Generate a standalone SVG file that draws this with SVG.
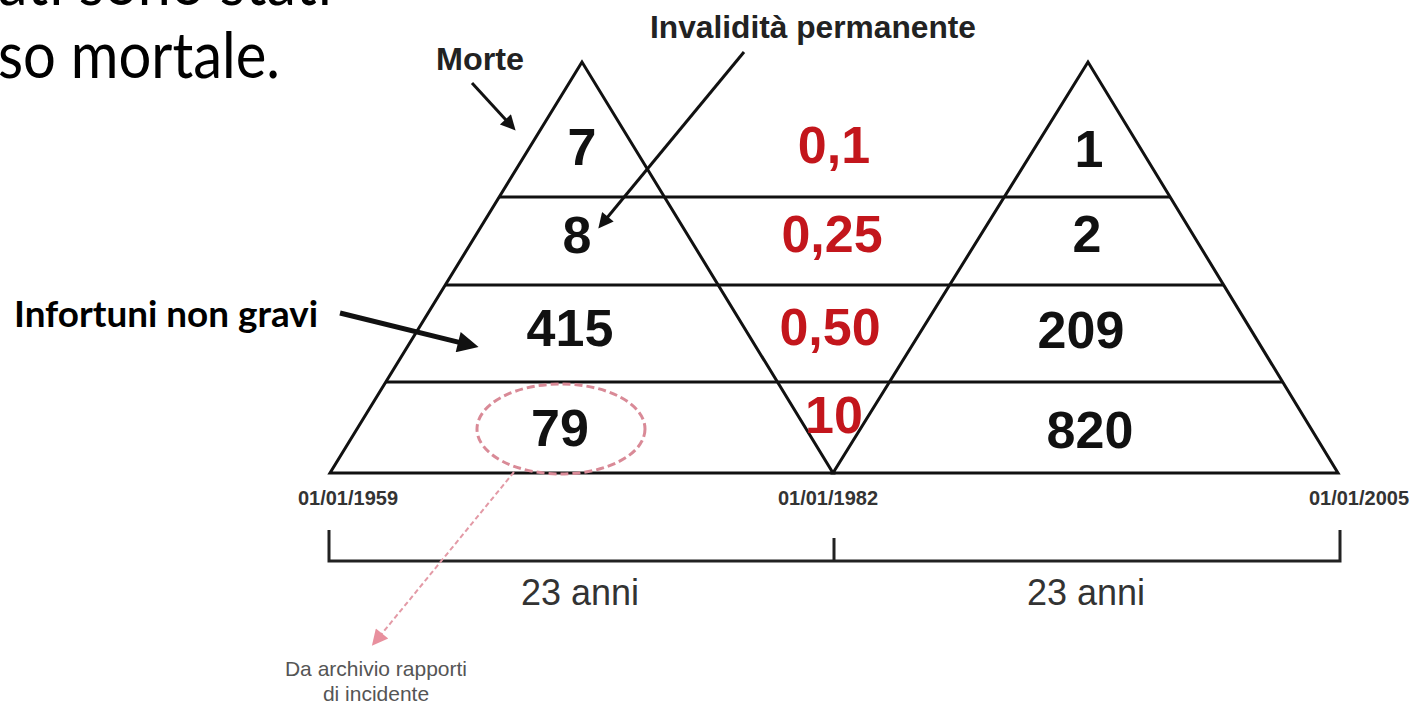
<svg xmlns="http://www.w3.org/2000/svg" width="1414" height="707" viewBox="0 0 1414 707">
  <style>
    .slide { font-family: Lato, "Liberation Sans", sans-serif; fill: #000; }
    .tri { fill: none; stroke: #111; stroke-width: 3; stroke-linejoin: miter; }
    .hl { stroke: #111; stroke-width: 3; }
    .num { font-family: "Liberation Sans", Arial, sans-serif; font-weight: bold; font-size: 52px; fill: #111; text-anchor: middle; }
    .red { fill: #c3161c; }
    .lbl { font-family: "Liberation Sans", Arial, sans-serif; font-weight: bold; font-size: 31px; fill: #222; }
    .date { font-family: "Liberation Sans", Arial, sans-serif; font-weight: bold; font-size: 20px; fill: #333; text-anchor: middle; }
    .span { font-family: "Liberation Sans", Arial, sans-serif; font-size: 36px; fill: #333; text-anchor: middle; }
    .note { font-family: "Liberation Sans", Arial, sans-serif; font-size: 21px; fill: #555; text-anchor: middle; }
    .arr { stroke: #111; fill: none; }
    .pink { stroke: #e39aa6; fill: none; }
  </style>
  <defs>
    <marker id="ah" viewBox="0 0 10 10" refX="3" refY="5" markerUnits="userSpaceOnUse" markerWidth="18" markerHeight="15" orient="auto">
      <path d="M0,0 L10,5 L0,10 z" fill="#111"/>
    </marker>
    <marker id="ahBig" viewBox="0 0 10 10" refX="3" refY="5" markerUnits="userSpaceOnUse" markerWidth="26" markerHeight="21" orient="auto">
      <path d="M0,0 L10,5 L0,10 z" fill="#111"/>
    </marker>
    <marker id="ahPink" viewBox="0 0 10 10" refX="3" refY="5" markerUnits="userSpaceOnUse" markerWidth="20" markerHeight="16" orient="auto">
      <path d="M0,0 L10,5 L0,10 z" fill="#e8909e"/>
    </marker>
  </defs>

  <!-- slide text (cut off) -->
  <g id="slide-text">
    <text class="slide" x="-2" y="5" font-size="63" textLength="334" lengthAdjust="spacingAndGlyphs">ati sono stati</text>
    <text class="slide" x="-2" y="78" font-size="63" textLength="282" lengthAdjust="spacingAndGlyphs">so mortale.</text>
  </g>

  <!-- pyramids -->
  <g id="pyramid-1959">
    <polygon class="tri" points="582,62 330,473 833,473"/>
  </g>
  <g id="pyramid-1982">
    <polygon class="tri" points="1088,62 833,473 1338,473"/>
  </g>
  <g id="levels">
    <line class="hl" x1="499" y1="197" x2="1170" y2="197"/>
    <line class="hl" x1="445" y1="285" x2="1224" y2="285"/>
    <line class="hl" x1="386" y1="382" x2="1283" y2="382"/>
  </g>

  <!-- values -->
  <g id="values-left">
    <text class="num" x="582" y="165">7</text>
    <text class="num" x="577" y="253">8</text>
    <text class="num" x="570" y="346">415</text>
    <text class="num" x="560" y="446">79</text>
  </g>
  <g id="values-ratio">
    <text class="num red" x="834" y="163">0,1</text>
    <text class="num red" x="832" y="252">0,25</text>
    <text class="num red" x="830" y="345">0,50</text>
    <text class="num red" x="834" y="433">10</text>
  </g>
  <g id="values-right">
    <text class="num" x="1089" y="167">1</text>
    <text class="num" x="1087" y="252">2</text>
    <text class="num" x="1081" y="348">209</text>
    <text class="num" x="1090" y="448">820</text>
  </g>

  <!-- labels -->
  <g id="label-morte">
    <text class="lbl" x="436" y="70" textLength="88" lengthAdjust="spacingAndGlyphs">Morte</text>
  </g>
  <g id="label-invalidita">
    <text class="lbl" x="650" y="38" textLength="326" lengthAdjust="spacingAndGlyphs">Invalidità permanente</text>
  </g>
  <g id="label-infortuni">
    <text class="slide" x="14" y="327" font-size="36" font-weight="bold" textLength="304" lengthAdjust="spacingAndGlyphs">Infortuni non gravi</text>
  </g>
  <g id="label-archivio">
    <text class="note" x="376" y="676">Da archivio rapporti</text>
    <text class="note" x="376" y="701">di incidente</text>
  </g>
  <g id="highlight-79">
    <ellipse cx="561" cy="429" rx="84" ry="45" fill="none" stroke="#d98a97" stroke-width="3" stroke-dasharray="8 4"/>
  </g>

  <!-- timeline -->
  <g id="timeline">
    <text class="date" x="348" y="505">01/01/1959</text>
    <text class="date" x="828" y="505">01/01/1982</text>
    <text class="date" x="1359" y="505">01/01/2005</text>
    <path d="M329,530 V561 H1340 V530 M834,538 V561" fill="none" stroke="#222" stroke-width="3"/>
    <text class="span" x="580" y="605">23 anni</text>
    <text class="span" x="1086" y="605">23 anni</text>
  </g>

  <!-- connectors -->
  <g id="connectors">
    <line class="arr" x1="472" y1="83" x2="508.5" y2="122.7" stroke-width="3" marker-end="url(#ah)"/>
    <line class="arr" x1="744" y1="52" x2="605" y2="220.3" stroke-width="3" marker-end="url(#ah)"/>
    <line class="arr" x1="340" y1="313" x2="464.3" y2="343.6" stroke-width="5" marker-end="url(#ahBig)"/>
    <line class="pink" x1="514" y1="472" x2="379" y2="637.2" stroke-width="2" stroke-dasharray="5 3" marker-end="url(#ahPink)"/>
  </g>
</svg>
